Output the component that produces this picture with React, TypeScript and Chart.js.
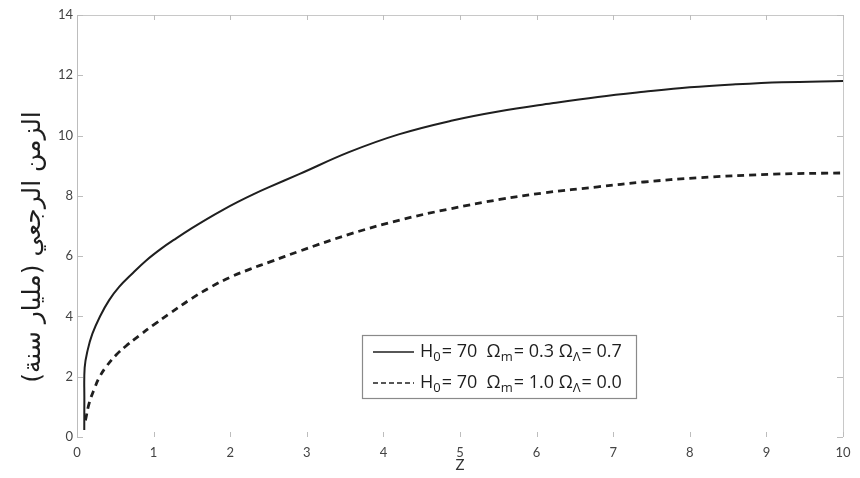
import React, { useEffect, useRef } from "react";
import { Chart, registerables } from "chart.js";

Chart.register(...registerables);

// ---- data ----
const zSolid = [0.095, 0.096, 0.1, 0.14, 0.2, 0.3, 0.42, 0.55, 0.73, 0.9, 1.1, 1.3, 1.5, 1.7, 1.9, 2.1, 2.3, 2.5, 2.9, 3.55, 4.2, 4.9, 5.5, 6.2, 6.8, 7.4, 8.0, 8.6, 9.2, 10.0];
const tSolid = [0.23, 1.23, 2.3, 2.89, 3.42, 4.0, 4.54, 4.98, 5.44, 5.85, 6.25, 6.6, 6.93, 7.24, 7.53, 7.8, 8.05, 8.28, 8.72, 9.45, 10.04, 10.5, 10.8, 11.07, 11.28, 11.45, 11.6, 11.7, 11.77, 11.81];

const zDashed = [0.11, 0.16, 0.23, 0.29, 0.38, 0.51, 0.64, 0.81, 1.0, 1.2, 1.5, 1.75, 2.0, 2.26, 2.52, 2.91, 3.56, 4.22, 4.87, 5.52, 6.1, 6.8, 7.4, 8.1, 9.1, 10.0];
const tDashed = [0.55, 1.13, 1.62, 1.97, 2.33, 2.72, 3.02, 3.36, 3.72, 4.08, 4.6, 4.98, 5.3, 5.57, 5.81, 6.17, 6.73, 7.2, 7.57, 7.88, 8.1, 8.3, 8.46, 8.6, 8.72, 8.76];

const seriesLabels = ["H_0= 70  Ω_m= 0.3 Ω_Λ= 0.7", "H_0= 70  Ω_m= 1.0 Ω_Λ= 0.0"];
const xTitle = "Z";
const yTitle = "الزمن الرجعي (مليار سنة)";
const xMin = 0, xMax = 10, xStep = 1;
const yMin = 0, yMax = 14, yStep = 2;

// draw a label with "_x" single-char subscripts
function drawRich(ctx: CanvasRenderingContext2D, text: string, x: number, y: number, size: number, family: string) {
  let cx = x;
  let i = 0;
  while (i < text.length) {
    if (text[i] === "_" && i + 1 < text.length) {
      ctx.font = `${Math.round(size * 0.72)}px ${family}`;
      ctx.fillText(text[i + 1], cx, y + size * 0.3);
      cx += ctx.measureText(text[i + 1]).width + 1;
      i += 2;
    } else {
      ctx.font = `${size}px ${family}`;
      ctx.fillText(text[i], cx, y);
      cx += ctx.measureText(text[i]).width;
      i += 1;
    }
  }
}

const framePlugin = {
  id: "frameAndTicks",
  beforeDatasetsDraw(chart: any) {
    const { ctx, chartArea: a, scales } = chart;
    ctx.save();
    ctx.strokeStyle = "#c8c8c8";
    ctx.lineWidth = 1;
    ctx.beginPath();
    ctx.moveTo(a.left, a.top + 0.5);
    ctx.lineTo(a.right + 0.5, a.top + 0.5);
    ctx.lineTo(a.right + 0.5, a.bottom);
    ctx.stroke();
    ctx.strokeStyle = "#bdbdbd";
    ctx.beginPath();
    scales.y.ticks.forEach((_t: any, i: number) => {
      const py = Math.round(scales.y.getPixelForTick(i)) + 0.5;
      ctx.moveTo(a.left, py);
      ctx.lineTo(a.left + 6, py);
      ctx.moveTo(a.right, py);
      ctx.lineTo(a.right - 6, py);
    });
    scales.x.ticks.forEach((_t: any, i: number) => {
      const px = Math.round(scales.x.getPixelForTick(i)) + 0.5;
      ctx.moveTo(px, a.bottom);
      ctx.lineTo(px, a.bottom - 5);
      ctx.moveTo(px, a.top);
      ctx.lineTo(px, a.top + 5);
    });
    ctx.stroke();
    ctx.restore();
  },
};

const yTitlePlugin = {
  id: "yTitle",
  afterDraw(chart: any, _args: any, opts: any) {
    const { ctx } = chart;
    ctx.save();
    ctx.translate(opts.x, opts.y);
    ctx.rotate(-Math.PI / 2);
    ctx.fillStyle = opts.color;
    ctx.font = opts.font;
    ctx.textAlign = "center";
    ctx.textBaseline = "middle";
    ctx.fillText(opts.text, 0, 0);
    ctx.restore();
  },
};

const legendPlugin = {
  id: "boxLegend",
  afterDatasetsDraw(chart: any, _args: any, opts: any) {
    const { ctx } = chart;
    const { x, y, w, h, rowGap, fontSize, family } = opts;
    ctx.save();
    ctx.fillStyle = "#ffffff";
    ctx.fillRect(x, y, w, h);
    ctx.strokeStyle = "#8a8a8a";
    ctx.lineWidth = 1.2;
    ctx.strokeRect(x + 0.5, y + 0.5, w, h);
    chart.data.datasets.forEach((ds: any, i: number) => {
      const ry = y + 17 + i * rowGap;
      ctx.strokeStyle = ds.borderColor;
      ctx.lineWidth = 1.5;
      ctx.setLineDash(ds.borderDash && ds.borderDash.length ? [5, 3] : []);
      ctx.beginPath();
      ctx.moveTo(x + 11, ry);
      ctx.lineTo(x + 52, ry);
      ctx.stroke();
      ctx.setLineDash([]);
      ctx.fillStyle = "#1e1e1e";
      ctx.textBaseline = "middle";
      ctx.textAlign = "left";
      drawRich(ctx, ds.label, x + 58, ry, fontSize, family);
    });
    ctx.restore();
  },
};

export default function App() {
  const ref = useRef<HTMLCanvasElement | null>(null);

  useEffect(() => {
    if (!ref.current) return;
    const chart = new Chart(ref.current, {
      type: "line",
      data: {
        datasets: [
          {
            label: seriesLabels[0],
            data: zSolid.map((z, i) => ({ x: z, y: tSolid[i] })),
            borderColor: "#1f1f1f",
            borderWidth: 2,
            pointRadius: 0,
            tension: 0.4,
            fill: false,
          },
          {
            label: seriesLabels[1],
            data: zDashed.map((z, i) => ({ x: z, y: tDashed[i] })),
            borderColor: "#1f1f1f",
            borderWidth: 2.8,
            borderDash: [7, 5],
            pointRadius: 0,
            tension: 0.4,
            fill: false,
          },
        ],
      },
      options: {
        animation: false,
        responsive: false,
        layout: { padding: { top: 15, right: 17, left: 0, bottom: 0 } },
        plugins: {
          legend: { display: false },
          tooltip: { enabled: false },
          boxLegend: { x: 362, y: 335, w: 274, h: 63, rowGap: 31, fontSize: 18, family: "'Open Sans', sans-serif" },
          yTitle: { text: yTitle, x: 33, y: 247, color: "#1e1e1e", font: "25px 'DejaVu Sans'" },
        } as any,
        scales: {
          x: {
            type: "linear",
            min: xMin,
            max: xMax,
            afterFit: (s: any) => { s.height = 41; },
            ticks: { stepSize: xStep, color: "#444", font: { family: "Lato", size: 13 }, padding: 8 },
            grid: { display: false, drawTicks: false },
            border: { display: false },
            title: { display: true, text: xTitle, color: "#333", font: { family: "Lato", size: 15 }, padding: { top: 0, bottom: 4 } },
          },
          y: {
            type: "linear",
            min: yMin,
            max: yMax,
            afterFit: (s: any) => { s.width = 77; },
            ticks: { stepSize: yStep, color: "#444", font: { family: "Lato", size: 13 }, padding: 4 },
            grid: { display: false, drawTicks: false },
            border: { display: true, color: "#bdbdbd", width: 1 },
          },
        },
      },
      plugins: [framePlugin, legendPlugin, yTitlePlugin],
    });
    return () => chart.destroy();
  }, []);

  return (
    <div style={{ position: "absolute", left: 0, top: 0, width: 860, height: 478, background: "#fff" }}>
      <canvas ref={ref} width={860} height={478} style={{ display: "block" }} />
    </div>
  );
}
